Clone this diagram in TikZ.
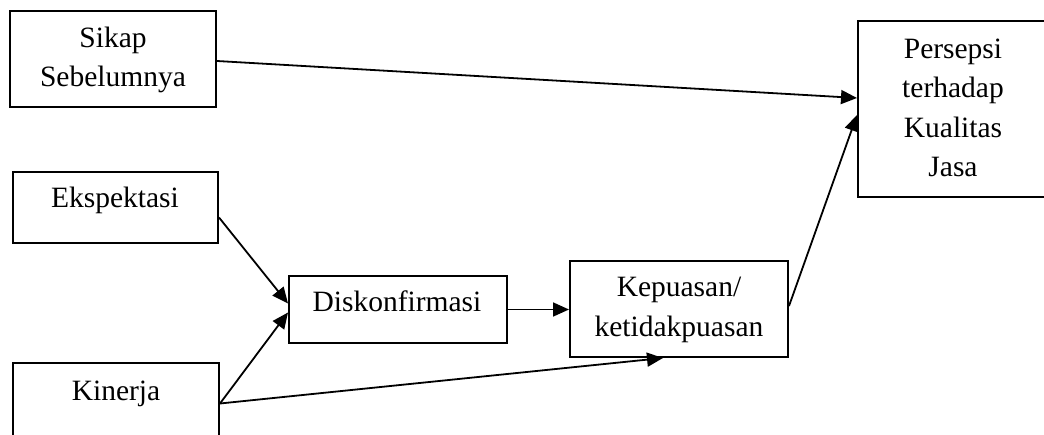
\documentclass[tikz,border=0pt]{standalone}
\usepackage{fontspec}
\setmainfont{Liberation Serif}
\usetikzlibrary{arrows.meta}
\begin{document}
\begin{tikzpicture}[x=1pt,y=-1pt,
  box/.style={draw, fill=white, line width=2pt, inner sep=0pt},
  lbl/.style={anchor=base, inner sep=0pt, font=\fontsize{29.5}{39}\selectfont},
  link/.style={line width=1.8pt, -{Triangle[length=16pt,width=14pt]}}]
\useasboundingbox (0,0) rectangle (1044,435);
\fill[white] (0,0) rectangle (1044,435);

% boxes
\node[box, minimum width=206pt, minimum height=96pt] (sikap) at (113,59) {};
\node[box, minimum width=205pt, minimum height=71pt] (eks) at (115.5,207.5) {};
\node[box, minimum width=206pt, minimum height=97pt] (kin) at (116,411.5) {};
\node[box, minimum width=218pt, minimum height=67pt] (disk) at (398,309.5) {};
\node[box, minimum width=218pt, minimum height=96pt] (kep) at (679,309) {};
\node[box, minimum width=194pt, minimum height=176pt] (pers) at (955,109) {};

% labels
\node[lbl] (t1) at (113,48) {Sikap};
\node[lbl] (t2) at (113,87) {Sebelumnya};
\node[lbl] (t3) at (115,208) {Ekspektasi};
\node[lbl] (t4) at (116,401) {Kinerja};
\node[lbl] (t5) at (397,312) {Diskonfirmasi};
\node[lbl] (t6) at (679,297) {Kepuasan/};
\node[lbl] (t7) at (679,337) {ketidakpuasan};
\node[lbl] (t8) at (953,59) {Persepsi};
\node[lbl] (t9) at (953,98) {terhadap};
\node[lbl] (t10) at (953,138) {Kualitas};
\node[lbl] (t11) at (953,177) {Jasa};

% connectors
\draw[link] ([yshift=-2pt]sikap.east) -- ([yshift=11pt]pers.west);
\draw[link] ([yshift=-10pt]eks.east) -- ([yshift=6pt]disk.west);
\draw[link] ([yshift=8pt]kin.east) -- ([yshift=-3pt]disk.west);
\draw[link] ([yshift=8pt]kin.east) -- ([xshift=-16pt]kep.south);
\draw[link] (disk.east) -- (disk.east -| kep.west);
\draw[link] ([yshift=3pt]kep.east) -- ([yshift=-6pt]pers.west);
\end{tikzpicture}
\end{document}
